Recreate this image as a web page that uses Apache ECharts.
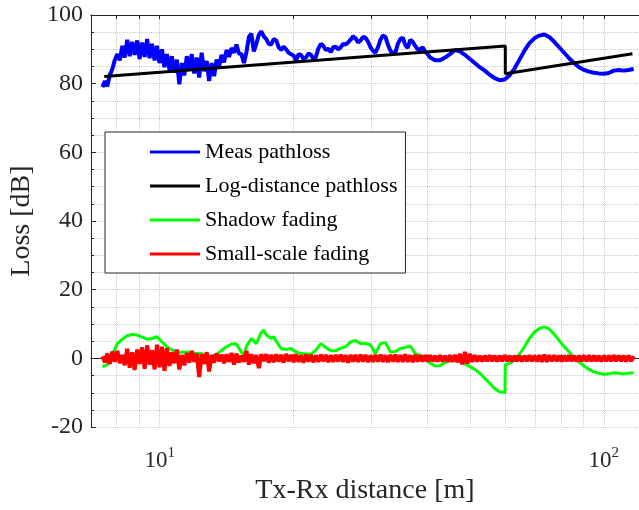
<!DOCTYPE html>
<html>
<head>
<meta charset="utf-8">
<script src="https://cdn.jsdelivr.net/npm/echarts@6/dist/echarts.min.js"></script>
<style>
html,body{margin:0;padding:0;background:#fff;}
#chart{width:639px;height:510px;}
</style>
</head>
<body>
<div id="chart"></div>
<script>
// ---- data: [distance (m), value (dB)] ----
const measPathloss = [
[7.43,79.0],[7.53,80.8],[7.62,79.2],[7.72,82.5],[7.82,84.2],[7.92,86.8],[8.03,88.6],[8.13,86.8],[8.24,91.0],[8.34,87.6],
[8.45,92.8],[8.56,88.0],[8.67,92.2],[8.78,88.4],[8.90,92.6],[9.01,87.2],[9.13,92.0],[9.25,87.8],[9.37,93.0],[9.49,87.4],
[9.61,91.6],[9.74,86.8],[9.86,91.0],[9.99,86.0],[10.12,90.0],[10.25,84.8],[10.38,88.6],[10.52,84.0],[10.65,88.0],[10.79,83.2],
[10.93,87.0],[11.07,79.8],[11.22,86.0],[11.36,82.4],[11.51,88.0],[11.66,84.0],[11.81,88.6],[11.96,83.0],[12.12,87.6],[12.27,81.8],
[12.43,89.0],[12.59,83.6],[12.76,86.6],[12.92,80.8],[13.09,86.0],[13.26,82.2],[13.43,87.0],[13.60,84.8],[13.78,88.4],[13.96,86.2],
[14.14,89.8],[14.33,87.8],[14.51,90.4],[14.70,89.0],[14.89,91.4],[15.08,88.8],[15.28,88.6],[15.48,86.0],[15.68,89.2],[15.88,93.6],
[16.08,94.6],[16.29,89.4],[16.50,91.6],[16.72,94.2],[16.93,95.2],[17.15,93.8],[17.38,93.0],[17.60,91.6],[17.83,91.4],[18.06,93.0],
[18.30,92.6],[18.53,90.6],[18.77,89.8],[19.01,90.8],[19.26,90.0],[19.51,89.0],[19.76,88.6],[20.02,88.2],[20.28,86.6],[20.54,88.6],
[20.80,88.4],[21.07,87.2],[21.35,87.6],[21.62,88.8],[21.90,88.4],[22.18,87.2],[22.47,87.8],[22.76,90.2],[23.06,91.6],[23.36,91.0],
[23.66,89.8],[23.97,90.2],[24.28,89.2],[24.59,90.6],[24.91,90.8],[25.23,90.0],[25.56,90.6],[25.89,91.6],[26.22,91.4],[26.56,92.0],
[26.91,92.8],[27.26,93.8],[27.61,93.2],[27.97,92.0],[28.34,92.6],[28.70,93.6],[29.07,93.4],[29.45,92.2],[29.83,90.6],[30.21,89.6],
[30.60,89.0],[31.00,90.6],[31.41,92.8],[31.81,94.0],[32.23,93.6],[32.64,91.4],[33.07,89.6],[33.50,88.8],[33.93,89.0],[34.37,91.6],
[34.82,93.0],[35.27,93.4],[35.72,91.2],[36.19,90.4],[36.66,92.8],[37.13,92.2],[37.61,91.0],[38.10,90.0],[38.59,90.0],[39.09,90.6],
[39.59,89.4],[40.11,88.6],[40.63,87.6],[41.69,86.8],[42.78,86.8],[43.89,87.6],[45.04,88.6],[46.21,89.8],[47.42,89.4],[48.66,88.4],
[49.92,87.2],[51.22,86.0],[52.56,84.8],[53.93,83.8],[55.34,82.6],[56.78,81.6],[58.26,81.0],[59.78,81.2],[61.34,82.4],[62.93,84.4],
[64.57,87.0],[66.26,89.6],[67.99,91.8],[69.77,93.2],[71.58,94.0],[73.45,94.3],[75.36,93.6],[77.33,92.2],[79.34,90.6],[81.41,89.0],
[83.53,87.4],[85.71,86.0],[87.94,84.8],[90.23,84.0],[92.59,83.5],[95.00,83.2],[97.46,83.0],[100.0,82.9],[102.6,83.1],[105.3,83.8],
[108.0,84.0],[110.8,83.8],[113.7,84.0],[116.7,84.3]
];
const logDistPathloss = [[7.5,82.1],[60.0,91.0],[60.0,82.9],[116.0,88.7]];
const shadowFading = [
[7.43,-2.4],[7.62,-1.9],[7.82,1.0],[8.03,4.3],[8.24,5.6],[8.45,6.6],[8.67,7.0],[8.90,6.8],[9.13,6.2],[9.37,5.6],
[9.61,5.8],[9.86,6.3],[10.12,4.8],[10.38,3.4],[10.65,2.5],[10.93,1.9],[11.22,1.8],[11.51,1.9],[11.81,1.6],[12.12,1.4],
[12.43,1.4],[12.76,0.6],[13.09,0.5],[13.43,1.2],[13.78,2.3],[14.14,3.4],[14.51,4.2],[14.89,4.2],[15.28,1.8],[15.48,1.0],
[15.68,3.5],[16.08,5.8],[16.50,4.3],[16.93,7.6],[17.15,8.2],[17.38,6.8],[17.83,5.8],[18.06,6.3],[18.30,5.0],[18.77,2.8],
[19.26,2.6],[19.76,2.9],[20.28,1.9],[20.80,1.4],[21.90,1.2],[22.47,2.4],[23.06,4.3],[23.66,3.2],[24.28,2.2],[24.91,2.2],
[25.56,3.0],[26.22,3.4],[26.91,4.8],[27.61,5.2],[28.34,4.3],[29.07,4.4],[29.83,3.9],[30.60,1.4],[31.41,4.3],[32.23,4.6],
[33.07,1.9],[33.93,2.0],[34.82,2.9],[35.72,3.2],[36.66,3.6],[37.61,1.4],[38.59,0.9],[39.59,0.2],[40.63,-1.4],[41.69,-2.2],
[42.78,-2.1],[43.89,-1.2],[45.04,-0.7],[46.21,-0.5],[47.42,-0.8],[48.66,-1.6],[49.92,-2.4],[51.22,-3.2],[52.56,-4.3],[53.93,-5.8],
[55.34,-7.2],[56.78,-8.8],[58.26,-9.7],[59.9,-9.9],[60.0,-1.9],[61.34,-1.4],[62.93,-0.5],[64.57,1.2],[66.26,3.4],[67.99,5.8],
[69.77,7.7],[71.58,8.7],[73.45,9.2],[75.36,8.6],[77.33,7.0],[79.34,5.2],[81.41,3.4],[83.53,1.9],[85.71,0.2],[87.94,-1.0],
[90.23,-2.2],[92.59,-3.2],[95.00,-3.9],[97.46,-4.3],[100.0,-4.6],[102.6,-4.5],[105.3,-4.2],[108.0,-4.3],[110.8,-4.5],[113.7,-4.3],
[116.7,-4.2]
];
const smallScaleFading = [
[7.43,0.6],[7.53,-1.2],[7.62,1.4],[7.72,-1.6],[7.82,2.0],[7.92,-1.0],[8.03,2.2],[8.13,-1.4],[8.24,1.0],[8.34,-2.0],
[8.45,2.8],[8.56,-2.7],[8.67,1.8],[8.78,-3.4],[8.90,2.6],[9.01,-1.6],[9.13,3.2],[9.25,-3.0],[9.37,3.8],[9.49,-1.8],
[9.61,2.4],[9.74,-3.2],[9.86,4.0],[9.99,-2.6],[10.12,3.4],[10.25,-3.6],[10.38,3.0],[10.52,-2.2],[10.65,1.8],[10.79,-1.4],
[10.93,2.6],[11.07,-3.2],[11.22,1.0],[11.36,-2.0],[11.51,1.6],[11.66,-1.2],[11.81,2.2],[11.96,-1.0],[12.12,1.4],[12.27,-5.4],
[12.43,1.2],[12.59,-1.6],[12.76,1.8],[12.92,-3.8],[13.09,1.0],[13.26,-1.2],[13.43,1.4],[13.60,-0.8],[13.78,1.1],[13.96,-1.4],
[14.14,1.2],[14.33,-1.0],[14.51,1.6],[14.70,-1.8],[14.89,1.4],[15.08,-1.2],[15.28,0.8],[15.48,-1.0],[15.68,2.2],[15.88,-1.8],
[16.08,1.2],[16.29,-1.4],[16.50,1.0],[16.72,-2.8],[16.93,1.2],[17.15,-0.8],[17.38,1.2],[17.60,-1.2],[17.83,1.0],[18.06,-1.1],
[18.30,1.2],[18.53,-0.9],[18.77,1.0],[19.01,-1.2],[19.26,1.3],[19.51,-0.8],[19.76,1.0],[20.02,-1.1],[20.28,1.2],[20.54,-1.0],
[20.80,0.9],[21.07,-1.2],[21.35,1.1],[21.62,-0.9],[21.90,1.0],[22.18,-1.1],[22.47,0.9],[22.76,-1.0],[23.06,1.1],[23.36,-0.8],
[23.66,1.0],[23.97,-1.1],[24.28,0.9],[24.59,-1.0],[24.91,1.0],[25.23,-0.9],[25.56,1.1],[25.89,-1.0],[26.22,0.9],[26.56,-1.2],
[26.91,1.0],[27.26,-0.9],[27.61,1.0],[27.97,-1.0],[28.34,1.1],[28.70,-0.9],[29.07,1.0],[29.45,-1.1],[29.83,0.9],[30.21,-1.0],
[30.60,1.0],[31.00,-0.9],[31.41,1.1],[31.81,-1.0],[32.23,0.9],[32.64,-1.1],[33.07,1.0],[33.50,-0.9],[33.93,1.1],[34.37,-1.0],
[34.82,0.9],[35.27,-1.0],[35.72,1.2],[36.19,-1.0],[36.66,0.9],[37.13,-1.1],[37.61,1.0],[38.10,-0.9],[38.59,0.9],[39.09,-0.9],
[39.59,0.9],[40.11,-0.9],[40.63,0.9],[41.16,-0.9],[41.69,0.8],[42.23,-0.9],[42.78,0.9],[43.33,-0.9],[43.89,0.8],[44.46,-0.9],
[45.04,0.9],[45.62,-1.0],[46.21,1.0],[46.81,-1.1],[47.42,1.3],[48.03,-1.7],[48.66,1.9],[49.29,-1.5],[49.92,1.3],[50.57,-1.0],
[51.22,0.9],[51.89,-0.9],[52.56,0.8],[53.24,-0.9],[53.93,0.8],[54.63,-0.8],[55.34,0.9],[56.05,-0.8],[56.78,0.8],[57.52,-0.9],
[58.26,0.8],[59.02,-0.8],[59.78,0.9],[60.56,-0.8],[61.34,0.8],[62.13,-0.9],[62.93,0.8],[63.75,-0.8],[64.57,0.8],[65.41,-0.9],
[66.26,0.8],[67.12,-0.8],[67.99,0.9],[68.87,-0.8],[69.77,0.8],[70.67,-0.9],[71.58,0.9],[72.51,-1.0],[73.45,1.1],[74.40,-1.0],
[75.36,0.9],[76.34,-0.8],[77.33,0.9],[78.33,-0.8],[79.34,0.8],[80.37,-0.9],[81.41,0.8],[82.46,-0.8],[83.53,0.9],[84.61,-0.8],
[85.71,0.8],[86.82,-0.9],[87.94,0.8],[89.08,-0.8],[90.23,0.8],[91.40,-0.8],[92.59,0.9],[93.79,-0.8],[95.00,0.8],[96.23,-0.8],
[97.46,0.8],[98.72,-0.9],[100.0,0.8],[101.3,-0.8],[102.6,0.8],[103.9,-0.8],[105.3,0.9],[106.6,-0.8],[108.0,0.8],[109.4,-0.8],
[110.8,0.8],[112.2,-0.9],[113.7,0.8],[115.2,-0.8],[116.7,0.7]
];
const xLabelTicks = [10, 100];
const xMinorTicks = [8, 9, 10, 20, 30, 40, 50, 60, 70, 80, 90, 100];
const seriesNames = ['Meas pathloss', 'Log-distance pathloss', 'Shadow fading', 'Small-scale fading'];
const seriesColors = ['#0000ff', '#000000', '#00ff00', '#ff0000'];

const FONT = '"Liberation Serif", "Times New Roman", serif';
const AX = '#262626';
const GRIDC = '#c8c8c8';

const chart = echarts.init(document.getElementById('chart'), null, {renderer: 'canvas'});
const baseX = {
  type: 'log', logBase: 10, min: 7, max: 120,
  axisLine: {show: true, lineStyle: {color: AX, width: 1}},
  axisTick: {show: true, inside: true, length: 4, customValues: xMinorTicks, lineStyle: {color: AX}},
  minorTick: {show: false}
};
const option = {
  animation: false,
  backgroundColor: '#fff',
  grid: {left: 88, top: 15, right: -1, bottom: 81, containLabel: false},
  legend: {
    orient: 'vertical', left: 105, top: 132,
    padding: [9, 8, 8, 45],
    backgroundColor: '#fff', borderColor: AX, borderWidth: 1, borderRadius: 0,
    itemWidth: 50, itemHeight: 3, itemGap: 12, icon: 'rect',
    textStyle: {fontFamily: FONT, fontSize: 22, color: '#000', lineHeight: 22},
    data: seriesNames
  },
  xAxis: [
    Object.assign({}, baseX, {
      position: 'bottom',
      name: 'Tx-Rx distance [m]', nameLocation: 'middle', nameGap: 49,
      nameTextStyle: {fontFamily: FONT, fontSize: 28, color: AX},
      axisLabel: {
        show: true, customValues: xLabelTicks, margin: 18,
        formatter: v => '{b|10}{s|' + Math.round(Math.log10(v)) + '}',
        rich: {
          b: {fontFamily: FONT, fontSize: 23, color: AX, verticalAlign: 'bottom'},
          s: {fontFamily: FONT, fontSize: 15, color: AX, verticalAlign: 'bottom', padding: [0, 0, 12, 0]}
        }
      },
      splitLine: {show: true, lineStyle: {color: GRIDC, type: 'dotted', width: 1}}
    }),
    Object.assign({}, baseX, {
      position: 'top',
      axisLabel: {show: false},
      splitLine: {show: false}
    })
  ],
  yAxis: {
    type: 'value', min: -20, max: 100, interval: 20,
    name: 'Loss [dB]', nameLocation: 'middle', nameGap: 54,
    nameTextStyle: {fontFamily: FONT, fontSize: 28, color: AX},
    axisLine: {show: true, lineStyle: {color: AX}},
    axisTick: {show: true, inside: true, length: 5, lineStyle: {color: AX}},
    minorTick: {show: true, splitNumber: 4, length: 3, lineStyle: {color: AX}},
    axisLabel: {fontFamily: FONT, fontSize: 24, color: AX, margin: 8},
    splitLine: {show: true, lineStyle: {color: GRIDC, type: 'dotted'}},
    minorSplitLine: {show: true, lineStyle: {color: GRIDC, type: 'dotted'}}
  },
  series: [
    {name: seriesNames[0], type: 'line', data: measPathloss, showSymbol: false, color: seriesColors[0], lineStyle: {width: 4}},
    {name: seriesNames[1], type: 'line', data: logDistPathloss, showSymbol: false, color: seriesColors[1], lineStyle: {width: 3}},
    {name: seriesNames[2], type: 'line', data: shadowFading, showSymbol: false, color: seriesColors[2], lineStyle: {width: 3}},
    {name: seriesNames[3], type: 'line', data: smallScaleFading, showSymbol: false, color: seriesColors[3], lineStyle: {width: 4}}
  ]
};
chart.setOption(option);
</script>
</body>
</html>
